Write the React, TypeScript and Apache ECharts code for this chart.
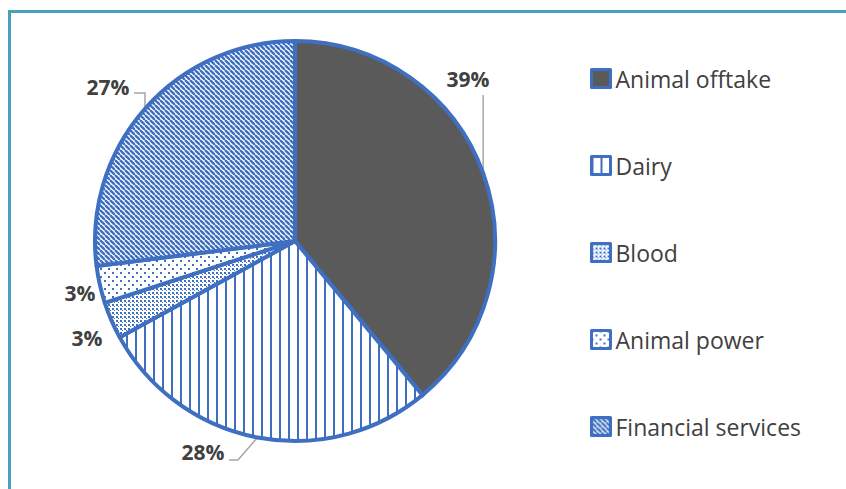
import React, { useEffect, useRef } from "react";
import * as echarts from "echarts";

const categories = ["Animal offtake", "Dairy", "Blood", "Animal power", "Financial services"];
const values = [39, 28, 3, 3, 27];

const BLUE = "#3e6fc1";

function makeTile(w: number, h: number, draw: (ctx: CanvasRenderingContext2D) => void) {
  const c = document.createElement("canvas");
  c.width = w;
  c.height = h;
  const ctx = c.getContext("2d")!;
  ctx.fillStyle = "#ffffff";
  ctx.fillRect(0, 0, w, h);
  draw(ctx);
  return { image: c, repeat: "repeat", imageWidth: w, imageHeight: h } as any;
}

function makePatterns() {
  const vertical = makeTile(9, 4, (ctx) => {
    ctx.fillStyle = BLUE;
    ctx.fillRect(0, 0, 2, 4);
  });
  const checker = makeTile(4, 4, (ctx) => {
    ctx.fillStyle = BLUE;
    ctx.fillRect(0, 0, 2, 2);
    ctx.fillRect(2, 2, 1, 1);
  });
  const dots = makeTile(8, 8, (ctx) => {
    ctx.fillStyle = BLUE;
    ctx.fillRect(0, 0, 2, 2);
    ctx.fillRect(4, 4, 2, 2);
  });
  const diag = makeTile(5, 5, (ctx) => {
    ctx.strokeStyle = BLUE;
    ctx.lineWidth = 2.4;
    for (let x = -5; x <= 5; x += 5) {
      ctx.beginPath();
      ctx.moveTo(x, 0);
      ctx.lineTo(x + 5, 5);
      ctx.stroke();
    }
  });
  return ["#5a5a5a", vertical, checker, dots, diag];
}

const labelPos: Record<number, [number, number]> = {
  0: [468, 79],
  1: [203, 452],
  2: [87, 338],
  3: [80, 293],
  4: [108, 87],
};

export default function App() {
  const ref = useRef<HTMLDivElement>(null);
  useEffect(() => {
    document.body.style.margin = "0";
    const chart = echarts.init(ref.current!, null, { renderer: "svg" });
    const fills = makePatterns();
    const data = categories.map((name, i) => ({
      name,
      value: values[i],
      itemStyle: { color: fills[i] },
      labelLine: { show: i === 0 || i === 1 || i === 4 },
    }));
    chart.setOption({
      animation: false,
      backgroundColor: "#ffffff",
      legend: {
        orient: "vertical",
        left: 585,
        top: 61,
        itemWidth: 19,
        itemHeight: 18,
        itemGap: 62,
        icon: "rect",
        itemStyle: { borderColor: BLUE, borderWidth: 3 },
        textStyle: { fontFamily: "Open Sans", fontSize: 23, color: "#404040", lineHeight: 25 },
        data: categories,
      },
      graphic: [
        { type: "line", shape: { x1: 9.5, y1: 11.5, x2: 846, y2: 11.5 }, style: { stroke: "#4a9fba", lineWidth: 3 } },
        { type: "line", shape: { x1: 9.5, y1: 10, x2: 9.5, y2: 489 }, style: { stroke: "#4a9fba", lineWidth: 3 } },
      ],
      series: [
        {
          type: "pie",
          center: [295, 241],
          radius: 200,
          startAngle: 90,
          clockwise: true,
          data,
          itemStyle: { borderColor: BLUE, borderWidth: 4 },
          label: {
            show: true,
            formatter: "{c}%",
            fontFamily: "Open Sans",
            fontWeight: "bold",
            fontSize: 21,
            color: "#404040",
          },
          labelLine: { show: true, lineStyle: { color: "#a6a6a6", width: 1.5 } },
          labelLayout: (params: any) => {
            const i = params.dataIndex;
            const [x, y] = labelPos[i];
            const out: any = { x, y, align: "center", verticalAlign: "middle" };
            const p0 = params.labelLinePoints ? params.labelLinePoints[0] : null;
            if (p0) {
              if (i === 0) out.labelLinePoints = [p0, [p0[0], 95]];
              if (i === 1) out.labelLinePoints = [p0, [238, 460], [229, 460]];
              if (i === 4) out.labelLinePoints = [p0, [p0[0], 93], [134, 93]];
            }
            return out;
          },
        },
      ],
    });
    return () => chart.dispose();
  }, []);
  return <div ref={ref} style={{ position: "fixed", left: 0, top: 0, width: 846, height: 489 }} />;
}
